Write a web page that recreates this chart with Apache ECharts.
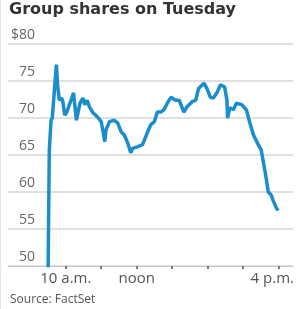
<!DOCTYPE html>
<html>
<head>
<meta charset="utf-8">
<script src="https://cdn.jsdelivr.net/npm/echarts@6/dist/echarts.min.js"></script>
<style>
  html, body { margin: 0; padding: 0; background: #fff; }
  #chart { width: 297px; height: 309px; }
</style>
</head>
<body>
<div id="chart"></div>
<script>
// trading times (h:mm) and share price
const times = ['9:30', '9:31', '9:32', '9:34', '9:35', '9:37', '9:40', '9:44', '9:46', '9:49', '9:53',
  '9:55', '9:58', '10:01', '10:07', '10:13', '10:18', '10:24', '10:29', '10:32', '10:36', '10:40',
  '10:46', '10:54', '11:00', '11:06', '11:08', '11:14', '11:22', '11:28', '11:34', '11:39', '11:45',
  '11:50', '11:53', '12:01', '12:10', '12:13', '12:18', '12:24', '12:30', '12:35', '12:41', '12:46',
  '12:52', '12:58', '13:06', '13:12', '13:20', '13:25', '13:34', '13:40', '13:45', '13:54', '13:59',
  '14:05', '14:10', '14:16', '14:22', '14:29', '14:33', '14:34', '14:38', '14:44', '14:49', '14:58',
  '15:06', '15:12', '15:18', '15:26', '15:31', '15:37', '15:40', '15:43', '15:48', '15:51', '15:57', '16:00']
const prices = [49.8, 58, 65.7, 68.4, 69.7, 70, 70.2, 77.2, 74.5, 72.4, 72.7,
  72.2, 70.4, 70.7, 72, 73.4, 69.7, 72, 72.7, 71.8, 72.4, 71.5,
  70.7, 70.1, 69.5, 66.8, 68.4, 69.5, 69.7, 69.3, 68.1, 67.7, 66.6,
  65.3, 65.9, 66.1, 66.4, 66.6, 68, 69.1, 69.5, 70.8, 70.8, 71.1,
  72, 72.8, 72.4, 72.4, 70.8, 71.5, 72.2, 72.4, 74, 74.7, 74,
  72.8, 72.7, 73.4, 74.5, 74.2, 72.4, 70, 71.4, 71.1, 72, 71.8,
  71.1, 69.3, 67.7, 66.4, 65.7, 63, 61.6, 60, 59.6, 58.9, 57.8, 57.5]
const tickTimes = ['10:00', '11:00', '12:00', '13:00', '14:00', '15:00', '16:00']
const tickLabels = { '10:00': '10 a.m.', '12:00': 'noon', '16:00': '4 p.m.' }
const yTicks = [50, 55, 60, 65, 70, 75, 80]

function toMin(s) {
  const p = s.split(':')
  return +p[0] * 60 + +p[1]
}

const chart = echarts.init(document.getElementById('chart'))

chart.setOption({
  animation: false,
  title: {
    text: 'Group shares on Tuesday',
    left: 9,
    top: 2,
    padding: 0,
    textStyle: { fontFamily: 'DejaVu Sans', fontWeight: 'bold', fontSize: 16, color: '#333' }
  },
  graphic: [
    {
      type: 'text',
      left: 10,
      top: 294,
      style: { text: 'Source: FactSet', fontFamily: 'Open Sans', fontSize: 12, fill: '#555' }
    },
    {
      type: 'rect',
      shape: { x: 0, y: 0, width: 1, height: 309 },
      style: { fill: '#e4e4e4' }
    }
  ],
  grid: { left: 8, right: 2, top: 44, bottom: 43 },
  xAxis: {
    type: 'value',
    min: 502,
    max: 985,
    axisLine: { show: true, lineStyle: { color: '#c8c8c8', width: 1 } },
    axisTick: {
      show: true,
      customValues: tickTimes.map(toMin),
      length: 3,
      lineStyle: { color: '#777', width: 2 }
    },
    axisLabel: {
      customValues: Object.keys(tickLabels).map(toMin),
      margin: 5,
      fontFamily: 'Open Sans',
      fontSize: 15,
      color: '#555',
      formatter: function (v) {
        const h = Math.floor(v / 60), m = v % 60
        const key = h + ':' + (m < 10 ? '0' + m : m)
        const lab = tickLabels[key] || ''
        return h === 16 ? '{r|' + lab + '}' : lab
      },
      rich: { r: { fontFamily: 'Open Sans', fontSize: 15, color: '#555', padding: [0, 12, 0, 0] } }
    },
    splitLine: { show: false }
  },
  yAxis: {
    type: 'value',
    min: yTicks[0],
    max: yTicks[yTicks.length - 1],
    interval: 5,
    axisLine: { show: false },
    axisTick: { show: false },
    axisLabel: {
      inside: true,
      margin: 27,
      align: 'right',
      verticalAlign: 'bottom',
      padding: [0, 0, 2, 0],
      fontFamily: 'Open Sans',
      fontSize: 14,
      color: '#666',
      formatter: function (v) { return v === 80 ? '$80' : String(v) }
    },
    splitLine: { lineStyle: { color: '#d6d6d6', width: 1.5 } }
  },
  series: [{
    type: 'line',
    data: times.map(function (t, i) { return [toMin(t), prices[i]] }),
    showSymbol: false,
    lineStyle: { color: '#1a8dcc', width: 3.5 },
    z: 3
  }]
})
</script>
</body>
</html>
